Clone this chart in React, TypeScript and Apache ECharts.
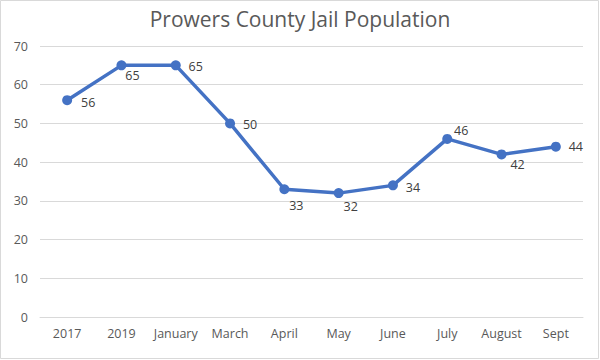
import React, { useEffect, useRef } from "react";
import * as echarts from "echarts";

const categories = ["2017", "2019", "January", "March", "April", "May", "June", "July", "August", "Sept"];
const population = [56, 65, 65, 50, 33, 32, 34, 46, 42, 44];
const labelOffsets: [number, number][] = [
  [21, 2], [11, 10], [20, 1], [20, 1], [12, 16], [12, 13], [20, 2], [14, -8], [16, 10], [20, 0],
];

export default function App() {
  const ref = useRef<HTMLDivElement>(null);
  useEffect(() => {
    if (!ref.current) return;
    const chart = echarts.init(ref.current, undefined, { renderer: "svg" });
    const font = "'Open Sans', 'Liberation Sans', sans-serif";
    chart.setOption({
      animation: false,
      backgroundColor: "#ffffff",
      title: {
        text: "Prowers County Jail Population",
        left: "center",
        top: 3,
        textStyle: { fontFamily: font, fontSize: 21, fontWeight: "normal", color: "#595959" },
      },
      graphic: [
        {
          type: "rect",
          shape: { x: 0.5, y: 0.5, width: 598, height: 358 },
          style: { fill: "none", stroke: "#d9d9d9", lineWidth: 1 },
          silent: true,
        },
      ],
      grid: { left: 40, right: 17, top: 46, bottom: 43 },
      xAxis: {
        type: "category",
        data: categories,
        boundaryGap: true,
        axisLine: { show: true, lineStyle: { color: "#d9d9d9" } },
        axisTick: { show: false },
        axisLabel: { color: "#595959", fontFamily: font, fontSize: 12.5, margin: 10, interval: 0 },
      },
      yAxis: {
        type: "value",
        min: 0,
        max: 70,
        interval: 10,
        axisLine: { show: false },
        axisTick: { show: false },
        axisLabel: { color: "#595959", fontFamily: font, fontSize: 12.5, margin: 12 },
        splitLine: { lineStyle: { color: "#d9d9d9", width: 1 } },
      },
      series: [
        {
          type: "line",
          data: population.map((v, i) => ({
            value: v,
            label: { offset: labelOffsets[i] },
          })),
          symbol: "circle",
          symbolSize: 10,
          itemStyle: { color: "#4472C4" },
          lineStyle: { color: "#4472C4", width: 3.5 },
          label: {
            show: true,
            position: "inside",
            color: "#404040",
            fontFamily: font,
            fontSize: 12.5,
          },
        },
      ],
    });
    return () => chart.dispose();
  }, []);
  return <div ref={ref} style={{ position: "fixed", left: 0, top: 0, width: 600, height: 360 }} />;
}
